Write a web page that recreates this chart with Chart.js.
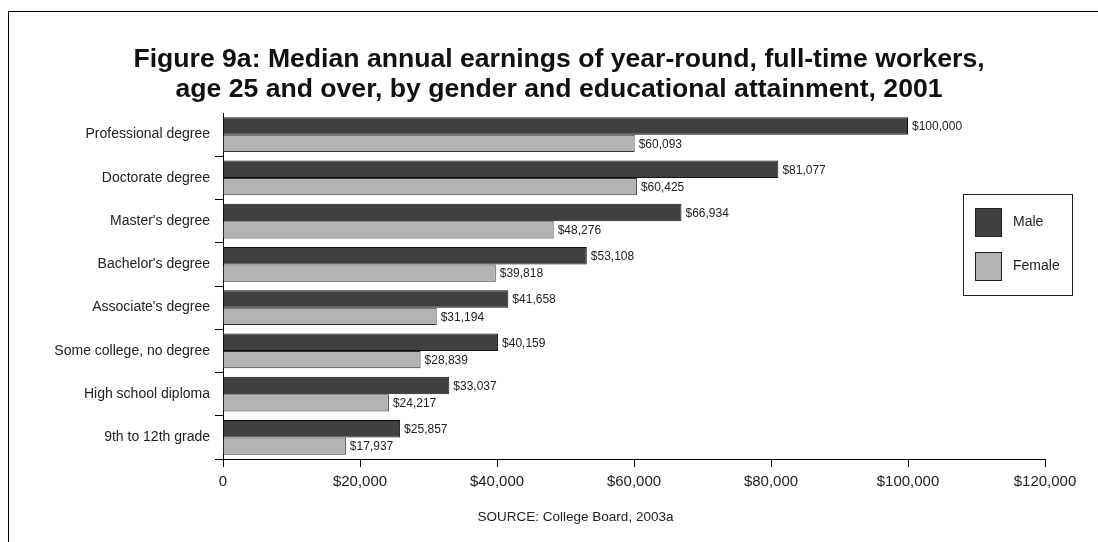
<!DOCTYPE html>
<html>
<head>
<meta charset="utf-8">
<script src="https://cdn.jsdelivr.net/npm/chart.js@4.4.1/dist/chart.umd.min.js"></script>
<style>
  html, body { margin: 0; padding: 0; background: #fff; overflow: hidden; }
  #wrap { position: relative; width: 1098px; height: 542px; }
  #frame { position: absolute; left: 8px; top: 11px; width: 1200px; height: 700px; border: 1px solid #000; }
  #title { position: absolute; left: 20px; width: 1078px; top: 43px; text-align: center;
    font: bold 26.6px/30px "Liberation Sans", Arial, sans-serif; color: #111; }
  #source { position: absolute; left: 100px; width: 951px; top: 509px; text-align: center;
    font: 13.5px/16px "Liberation Sans", Arial, sans-serif; color: #222; }
  #chart { position: absolute; left: 0; top: 0; }
</style>
</head>
<body>
<div id="wrap">
  <div id="frame"></div>
  <canvas id="chart" width="1098" height="542"></canvas>
  <div id="title">Figure 9a: Median annual earnings of year-round, full-time workers,<br>age 25 and over, by gender and educational attainment, 2001</div>
  <div id="source">SOURCE: College Board, 2003a</div>
</div>
<script>
var categories = [
  "Professional degree",
  "Doctorate degree",
  "Master's degree",
  "Bachelor's degree",
  "Associate's degree",
  "Some college, no degree",
  "High school diploma",
  "9th to 12th grade"
]
var maleValues = [100000, 81077, 66934, 53108, 41658, 40159, 33037, 25857]
var femaleValues = [60093, 60425, 48276, 39818, 31194, 28839, 24217, 17937]
var tickValues = [0, 20000, 40000, 60000, 80000, 100000, 120000]

var FONT = "'Liberation Sans', Arial, sans-serif"

function money(v) {
  return "$" + v.toLocaleString("en-US")
}

// value labels at the end of each bar
var barLabels = {
  id: "barLabels",
  afterDatasetsDraw: function (chart) {
    var c = chart.ctx
    c.save()
    c.font = "12px " + FONT
    c.fillStyle = "#222"
    c.textAlign = "left"
    c.textBaseline = "middle"
    chart.data.datasets.forEach(function (ds, i) {
      chart.getDatasetMeta(i).data.forEach(function (bar, j) {
        c.fillText(money(ds.data[j]), bar.x + 4, bar.y + 1)
      })
    })
    c.restore()
  }
}

// boxed legend on the right
var boxLegend = {
  id: "boxLegend",
  afterDraw: function (chart) {
    var c = chart.ctx
    var x = 963.5, y = 194.5, w = 109, h = 101
    c.save()
    c.fillStyle = "#fff"
    c.fillRect(x, y, w, h)
    c.strokeStyle = "#222"
    c.lineWidth = 1
    c.strokeRect(x, y, w, h)
    c.font = "14px " + FONT
    c.textBaseline = "middle"
    chart.data.datasets.forEach(function (ds, i) {
      var sy = 208.5 + i * 44
      c.fillStyle = ds.backgroundColor
      c.fillRect(975.5, sy, 26, 28)
      c.strokeStyle = "#222"
      c.strokeRect(975.5, sy, 26, 28)
      c.fillStyle = "#222"
      c.fillText(ds.label, 1013, sy + 14)
    })
    c.restore()
  }
}

new Chart(document.getElementById("chart"), {
  type: "bar",
  data: {
    labels: categories,
    datasets: [
      {
        label: "Male",
        data: maleValues,
        backgroundColor: "#404040",
        borderColor: "#111",
        borderWidth: 1,
        categoryPercentage: 0.8,
        barPercentage: 1
      },
      {
        label: "Female",
        data: femaleValues,
        backgroundColor: "#b3b3b3",
        borderColor: "#333",
        borderWidth: 1,
        categoryPercentage: 0.8,
        barPercentage: 1
      }
    ]
  },
  options: {
    indexAxis: "y",
    responsive: false,
    animation: false,
    layout: {
      padding: { top: 113, right: 53, bottom: 0, left: 0 }
    },
    plugins: {
      legend: { display: false },
      title: { display: false },
      tooltip: { enabled: false }
    },
    scales: {
      x: {
        min: 0,
        max: 120000,
        afterBuildTicks: function (scale) {
          scale.ticks = tickValues.map(function (v) { return { value: v } })
        },
        afterFit: function (scale) { scale.height = 83 },
        border: { display: true, color: "#000", width: 1 },
        grid: { drawOnChartArea: false, drawTicks: true, tickLength: 8, color: "#000" },
        ticks: {
          padding: 6,
          color: "#222",
          font: { family: FONT, size: 15 },
          maxRotation: 0,
          callback: function (v) { return v === 0 ? "0" : money(v) }
        }
      },
      y: {
        afterFit: function (scale) { scale.width = 223 },
        border: { display: true, color: "#000", width: 1 },
        grid: {
          drawOnChartArea: false,
          drawTicks: true,
          tickLength: 8,
          offset: true,
          color: function (ctx) { return ctx.index === 0 ? "rgba(0,0,0,0)" : "#000" }
        },
        ticks: {
          padding: 5,
          color: "#222",
          font: { family: FONT, size: 14 }
        }
      }
    }
  },
  plugins: [barLabels, boxLegend]
})
</script>
</body>
</html>
